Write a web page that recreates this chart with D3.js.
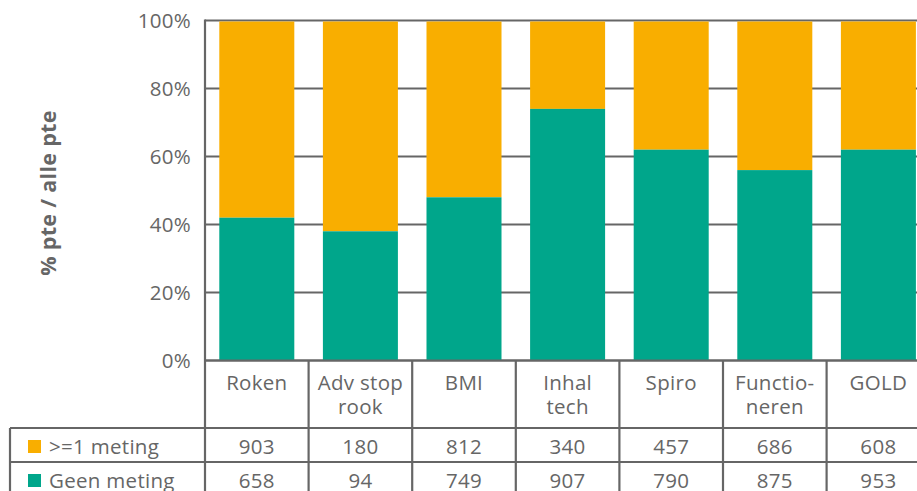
<!DOCTYPE html>
<html>
    <head>
        <meta charset="utf-8">
        <script src="https://d3js.org/d3.v7.min.js"></script>
        <title>Metingen</title>
        <style>
            body { margin: 0; background-color: #fff }
            text { font-family: "Open Sans", sans-serif; fill: #666; letter-spacing: 0.3px }
        </style>
    </head>
    <body>
        <script>
            /* data */
            const categories = [['Roken'], ['Adv stop', 'rook'], ['BMI'], ['Inhal', 'tech'], ['Spiro'], ['Functio-', 'neren'], ['GOLD']]
            const geenPct = [42, 38, 48, 74, 62, 56, 62]       // green share as drawn
            const meting = [903, 180, 812, 340, 457, 686, 608]
            const geenMeting = [658, 94, 749, 907, 790, 875, 953]
            const yTicks = [0, 20, 40, 60, 80, 100]
            const seriesNames = ['>=1 meting', 'Geen meting']
            const colors = ['#F9AE00', '#00A68B']

            /* canvas setup */
            const width = 917
            const height = 491
            const grey = '#666'
            const fs = 20.5

            const svg = d3.select('body')
                .append('svg')
                    .attr('width', width)
                    .attr('height', height)

            const x = d3.scaleBand()
                .domain(d3.range(categories.length))
                .range([205, 205 + 7 * 103.6])
                .padding(0)
            const barW = x.bandwidth() * 0.724

            const y = d3.scaleLinear().domain([0, 100]).range([360.5, 20.5])

            /* gridlines */
            svg.append('g')
                .selectAll('line')
                .data(yTicks)
                .join('line')
                    .attr('x1', 205).attr('x2', width)
                    .attr('y1', d => y(d)).attr('y2', d => y(d))
                    .attr('stroke', grey).attr('stroke-width', 2.2)

            /* bars */
            const rows = categories.map((c, i) => ({ i, geen: geenPct[i] }))
            const bars = svg.append('g')
            bars.selectAll('.top')
                .data(rows)
                .join('rect')
                    .attr('x', d => x(d.i) + (x.bandwidth() - barW) / 2)
                    .attr('width', barW)
                    .attr('y', y(100) + 1)
                    .attr('height', d => y(d.geen) - y(100) - 1)
                    .attr('fill', colors[0])
            bars.selectAll('.bottom')
                .data(rows)
                .join('rect')
                    .attr('x', d => x(d.i) + (x.bandwidth() - barW) / 2)
                    .attr('width', barW)
                    .attr('y', d => y(d.geen))
                    .attr('height', d => y(0) - y(d.geen))
                    .attr('fill', colors[1])

            /* y axis */
            const yAxis = svg.append('g')
                .attr('transform', 'translate(205,0)')
                .call(d3.axisLeft(y).tickValues(yTicks).tickFormat(d => d + '%').tickSize(0).tickPadding(14))
            yAxis.select('.domain').remove()
            yAxis.selectAll('text')
                .attr('font-size', fs)
                .attr('fill', grey)
                .style('font-family', '"Open Sans", sans-serif')
            svg.append('line')
                .attr('x1', 205).attr('x2', 205)
                .attr('y1', y(100) - 1).attr('y2', height)
                .attr('stroke', grey).attr('stroke-width', 2.2)

            svg.append('text')
                .attr('transform', `translate(56,193) rotate(-90)`)
                .attr('text-anchor', 'middle')
                .attr('font-size', 21.5)
                .attr('font-weight', 'bold')
                .text('% pte / alle pte')

            /* data table */
            const rowY = [360.5, 428, 462, 496]
            const table = svg.append('g')
            table.selectAll('.hline')
                .data(rowY)
                .join('line')
                    .attr('x1', (d, i) => i === 0 ? 205 : 10).attr('x2', width)
                    .attr('y1', d => d).attr('y2', d => d)
                    .attr('stroke', grey).attr('stroke-width', 2.2)
            table.selectAll('.vline')
                .data(d3.range(1, categories.length + 1))
                .join('line')
                    .attr('x1', d => x.range()[0] + d * x.step())
                    .attr('x2', d => x.range()[0] + d * x.step())
                    .attr('y1', rowY[0]).attr('y2', height)
                    .attr('stroke', grey).attr('stroke-width', 2.2)
            table.append('line')
                .attr('x1', 10).attr('x2', 10)
                .attr('y1', rowY[1]).attr('y2', height)
                .attr('stroke', grey).attr('stroke-width', 2.2)

            // category labels, one text per line
            const catLines = categories.flatMap((c, i) => c.map((t, k) => ({ i, k, t })))
            table.selectAll('.cat')
                .data(catLines)
                .join('text')
                    .attr('text-anchor', 'middle')
                    .attr('font-size', fs)
                    .attr('x', d => x(d.i) + x.bandwidth() / 2)
                    .attr('y', d => 390 + d.k * 24)
                    .text(d => d.t)

            // values
            const valueRows = [meting, geenMeting]
            valueRows.forEach((vals, r) => {
                const base = rowY[r + 1] + 26
                table.selectAll('.val' + r)
                    .data(vals)
                    .join('text')
                        .attr('text-anchor', 'middle')
                        .attr('font-size', fs)
                        .attr('x', (d, i) => x(i) + x.bandwidth() / 2)
                        .attr('y', base)
                        .text(d => d)
                table.append('rect')
                    .attr('x', 28).attr('y', base - 14)
                    .attr('width', 13).attr('height', 13)
                    .attr('fill', colors[r])
                table.append('text')
                    .attr('x', 49).attr('y', base)
                    .attr('font-size', fs)
                    .text(seriesNames[r])
            })
        </script>
    </body>
</html>
